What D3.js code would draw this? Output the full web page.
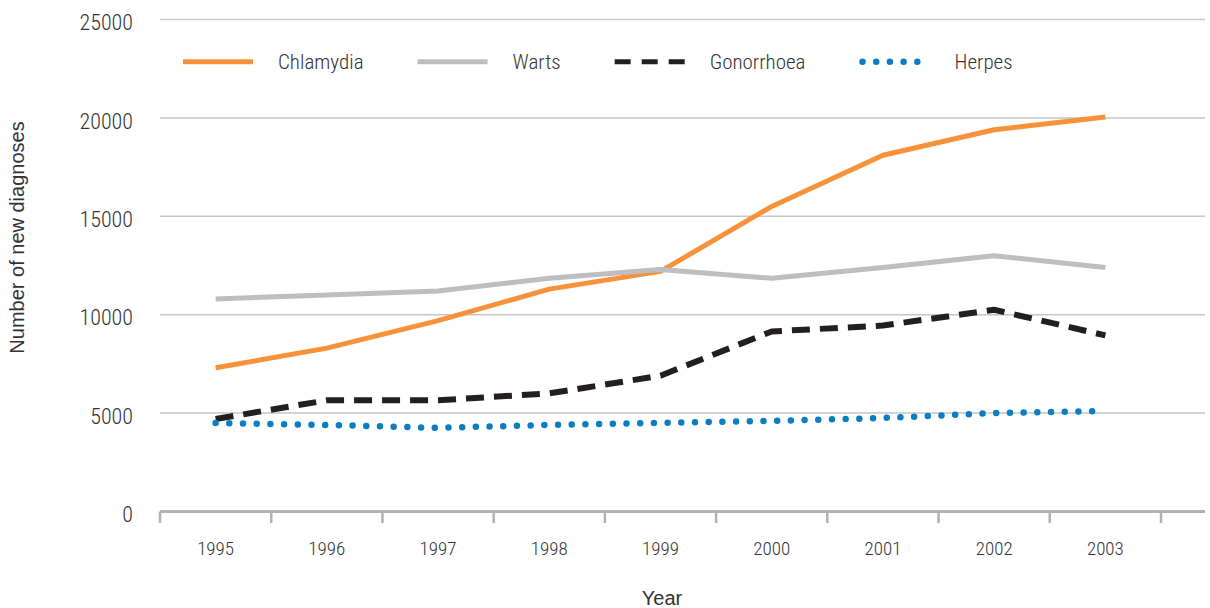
<!DOCTYPE html>
<html>
<head>
<meta charset="utf-8">
<script src="https://cdn.jsdelivr.net/npm/d3@7"></script>
<style>
  body { margin: 0; background: #fff; }
  .cond { font-family: "Liberation Sans Narrow", "Roboto Condensed", "DejaVu Sans Condensed", sans-serif; font-weight: 300; fill: #333; }
  .ttl { font-family: "Liberation Sans", Arial, sans-serif; fill: #333; }
</style>
</head>
<body>
<svg id="chart" width="1210" height="608"></svg>
<script>
// data
const years = [1995, 1996, 1997, 1998, 1999, 2000, 2001, 2002, 2003];
const chlamydia = [7300, 8300, 9700, 11300, 12200, 15500, 18100, 19400, 20050];
const warts = [10800, 11000, 11200, 11850, 12300, 11850, 12400, 13000, 12400];
const gonorrhoea = [4700, 5650, 5650, 6000, 6900, 9150, 9450, 10250, 8950];
const herpes = [4500, 4400, 4250, 4400, 4500, 4600, 4750, 5000, 5100];
const yTicks = [0, 5000, 10000, 15000, 20000, 25000];

const seriesNames = ["Chlamydia", "Warts", "Gonorrhoea", "Herpes"];
const seriesValues = [chlamydia, warts, gonorrhoea, herpes];

const styles = {
  Chlamydia: { color: "#f7923a", width: 5, dash: null, cap: "butt" },
  Warts: { color: "#bdbec1", width: 5, dash: null, cap: "butt" },
  Gonorrhoea: { color: "#231f20", width: 6, dash: "18 10", cap: "butt" },
  Herpes: { color: "#0b7dc2", width: 6.5, dash: "0 13.7", cap: "round" }
};

const plotLeft = 160, plotRight = 1161, gridRight = 1205, plotTop = 19.5, plotBottom = 511.5;

const svg = d3.select("#chart");

const x = d3.scaleBand()
    .domain(years)
    .range([plotLeft, plotRight])
    .padding(0);

const y = d3.scaleLinear()
    .domain([0, 25000])
    .range([plotBottom, plotTop]);

// gridlines
svg.append("g")
    .selectAll("line")
    .data(yTicks.filter(d => d > 0))
    .enter().append("line")
    .attr("x1", plotLeft)
    .attr("x2", gridRight)
    .attr("y1", d => y(d))
    .attr("y2", d => y(d))
    .attr("stroke", "#c6c6c6")
    .attr("stroke-width", 1.5);

// y labels
svg.append("g")
    .selectAll("text")
    .data(yTicks)
    .enter().append("text")
    .attr("class", "cond")
    .attr("x", 133)
    .attr("y", d => y(d) + 3)
    .attr("dy", "0.35em")
    .attr("text-anchor", "end")
    .style("font-size", "22px")
    .text(d => d);

// bottom axis
svg.append("line")
    .attr("x1", plotLeft)
    .attr("x2", gridRight)
    .attr("y1", y(0))
    .attr("y2", y(0))
    .attr("stroke", "#b0b1b3")
    .attr("stroke-width", 3);

const tickPos = years.map(d => x(d)).concat([x(years[years.length - 1]) + x.bandwidth()]);
svg.append("g")
    .selectAll("line")
    .data(tickPos)
    .enter().append("line")
    .attr("x1", d => d)
    .attr("x2", d => d)
    .attr("y1", y(0))
    .attr("y2", y(0) + 11.5)
    .attr("stroke", "#b0b1b3")
    .attr("stroke-width", 2.5);

svg.append("g")
    .selectAll("text")
    .data(years)
    .enter().append("text")
    .attr("class", "cond")
    .attr("x", d => x(d) + x.bandwidth() / 2)
    .attr("y", 555)
    .attr("text-anchor", "middle")
    .style("font-size", "19px")
    .text(d => d);

// axis titles
svg.append("text")
    .attr("class", "ttl")
    .attr("transform", "translate(24," + ((plotTop + plotBottom) / 2 - 28) + ") rotate(-90)")
    .attr("text-anchor", "middle")
    .style("font-size", "20px")
    .text("Number of new diagnoses");

svg.append("text")
    .attr("class", "ttl")
    .attr("x", 662)
    .attr("y", 605)
    .attr("text-anchor", "middle")
    .style("font-size", "20px")
    .text("Year");

// lines
const line = d3.line()
    .x((d, i) => x(years[i]) + x.bandwidth() / 2)
    .y(d => y(d));

seriesNames.forEach(function(name, k) {
    const s = styles[name];
    svg.append("path")
        .datum(seriesValues[k])
        .attr("d", line)
        .attr("fill", "none")
        .attr("stroke", s.color)
        .attr("stroke-width", s.width)
        .attr("stroke-linecap", s.cap)
        .attr("stroke-linejoin", "round")
        .attr("stroke-dasharray", s.dash);
});

// legend, laid out left to right
let lx = 183;
const ly = 61.7;
seriesNames.forEach(function(name) {
    const s = styles[name];
    svg.append("line")
        .attr("x1", lx + (s.cap === "round" ? 3 : 0))
        .attr("x2", lx + 70)
        .attr("y1", ly)
        .attr("y2", ly)
        .attr("stroke", s.color)
        .attr("stroke-width", s.cap === "round" ? 6.5 : 5)
        .attr("stroke-linecap", s.cap)
        .attr("stroke-dasharray", name === "Gonorrhoea" ? "16 11" : s.dash);
    const t = svg.append("text")
        .attr("class", "cond")
        .attr("x", lx + 95)
        .attr("y", ly + 7.5)
        .style("font-size", "21px")
        .text(name);
    lx = lx + 95 + t.node().getComputedTextLength() + 54;
});
</script>
</body>
</html>
